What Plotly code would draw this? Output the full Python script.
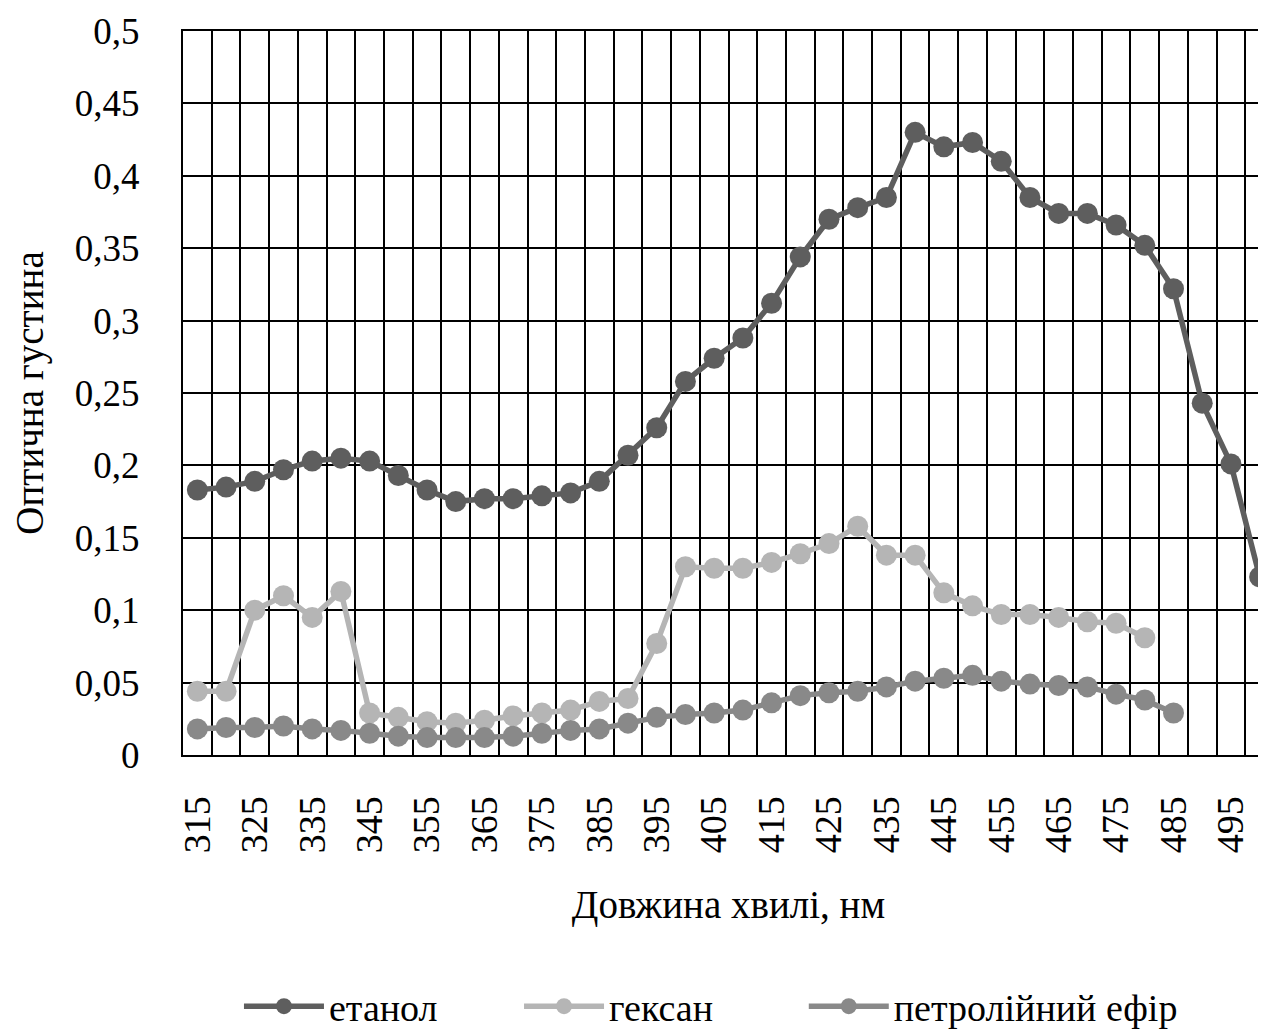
import plotly.graph_objects as go

wavelengths = list(range(315, 505, 5))

ethanol = [0.183, 0.185, 0.189, 0.197, 0.203, 0.205, 0.203, 0.193, 0.183, 0.175,
           0.177, 0.177, 0.179, 0.181, 0.189, 0.207, 0.226, 0.258, 0.274, 0.288,
           0.312, 0.344, 0.370, 0.378, 0.385, 0.430, 0.420, 0.423, 0.410, 0.385,
           0.374, 0.374, 0.366, 0.352, 0.322, 0.243, 0.201, 0.123]

hexane = [0.044, 0.044, 0.100, 0.110, 0.095, 0.113, 0.029, 0.026, 0.023, 0.022,
          0.024, 0.027, 0.029, 0.031, 0.037, 0.039, 0.077, 0.130, 0.129, 0.129,
          0.133, 0.139, 0.146, 0.158, 0.138, 0.138, 0.112, 0.103, 0.097, 0.097,
          0.095, 0.092, 0.091, 0.081]

pet_ether = [0.018, 0.019, 0.019, 0.020, 0.018, 0.017, 0.015, 0.013, 0.012, 0.012,
             0.012, 0.013, 0.015, 0.017, 0.018, 0.022, 0.026, 0.028, 0.029, 0.031,
             0.036, 0.041, 0.043, 0.044, 0.047, 0.051, 0.053, 0.055, 0.051, 0.049,
             0.048, 0.047, 0.042, 0.038, 0.029]

x_tick_vals = [315, 325, 335, 345, 355, 365, 375, 385, 395, 405, 415, 425, 435, 445,
               455, 465, 475, 485, 495]
x_tick_text = [str(v) for v in x_tick_vals]
y_tick_vals = [0, 0.05, 0.1, 0.15, 0.2, 0.25, 0.3, 0.35, 0.4, 0.45, 0.5]
y_tick_text = ["0", "0,05", "0,1", "0,15", "0,2", "0,25", "0,3", "0,35", "0,4", "0,45", "0,5"]

series_names = ["етанол", "гексан", "петролійний ефір"]
series_colors = ["#5e5e5e", "#b5b5b5", "#898989"]
series_values = [ethanol, hexane, pet_ether]
legend_ids = ["legend", "legend2", "legend3"]
legend_x = [0.0513, 0.308, 0.569]

FONT = "Liberation Serif"

fig = go.Figure()
for name, color, vals, lid in zip(series_names, series_colors, series_values, legend_ids):
    fig.add_trace(go.Scatter(
        x=wavelengths[:len(vals)], y=vals, name=name,
        mode="lines+markers",
        line=dict(color=color, width=5.5),
        marker=dict(color=color, size=21),
        cliponaxis=False,
        legend=lid,
    ))

legend_style = dict(
    orientation="h", xanchor="left", y=-0.348, yanchor="middle",
    font=dict(family=FONT, size=38, color="black"),
    itemwidth=80, bgcolor="rgba(0,0,0,0)",
)

# page body adds an 8px margin; margins below compensate for it
fig.update_layout(
    width=1266, height=1030,
    margin=dict(l=175, r=0, t=23, b=281),
    paper_bgcolor="white", plot_bgcolor="white",
    font=dict(family=FONT, size=37, color="black"),
    showlegend=True,
    legend=dict(x=legend_x[0], **legend_style),
    legend2=dict(x=legend_x[1], **legend_style),
    legend3=dict(x=legend_x[2], **legend_style),
    xaxis=dict(
        range=[312.5, 502.5],
        tickmode="array", tickvals=x_tick_vals, ticktext=x_tick_text,
        tickangle=-90, tickfont=dict(family=FONT, size=38),
        showgrid=False, zeroline=False, automargin=False,
        showline=True, linecolor="black", linewidth=2, mirror=True,
        ticks="", ticklabelstandoff=24,
        minor=dict(tick0=312.5, dtick=5, showgrid=True, gridcolor="black", gridwidth=2, ticks=""),
        title=dict(text="Довжина хвилі, нм", font=dict(family=FONT, size=39), standoff=38),
    ),
    yaxis=dict(
        range=[0, 0.5],
        tickmode="array", tickvals=y_tick_vals, ticktext=y_tick_text,
        tickfont=dict(family=FONT, size=37),
        showgrid=True, gridcolor="black", gridwidth=2,
        zeroline=False, automargin=False,
        showline=True, linecolor="black", linewidth=2,
        ticks="", ticklabelstandoff=34,
        title=dict(text="Оптична густина", font=dict(family=FONT, size=39), standoff=30),
    ),
)

fig.write_html("out.html")
